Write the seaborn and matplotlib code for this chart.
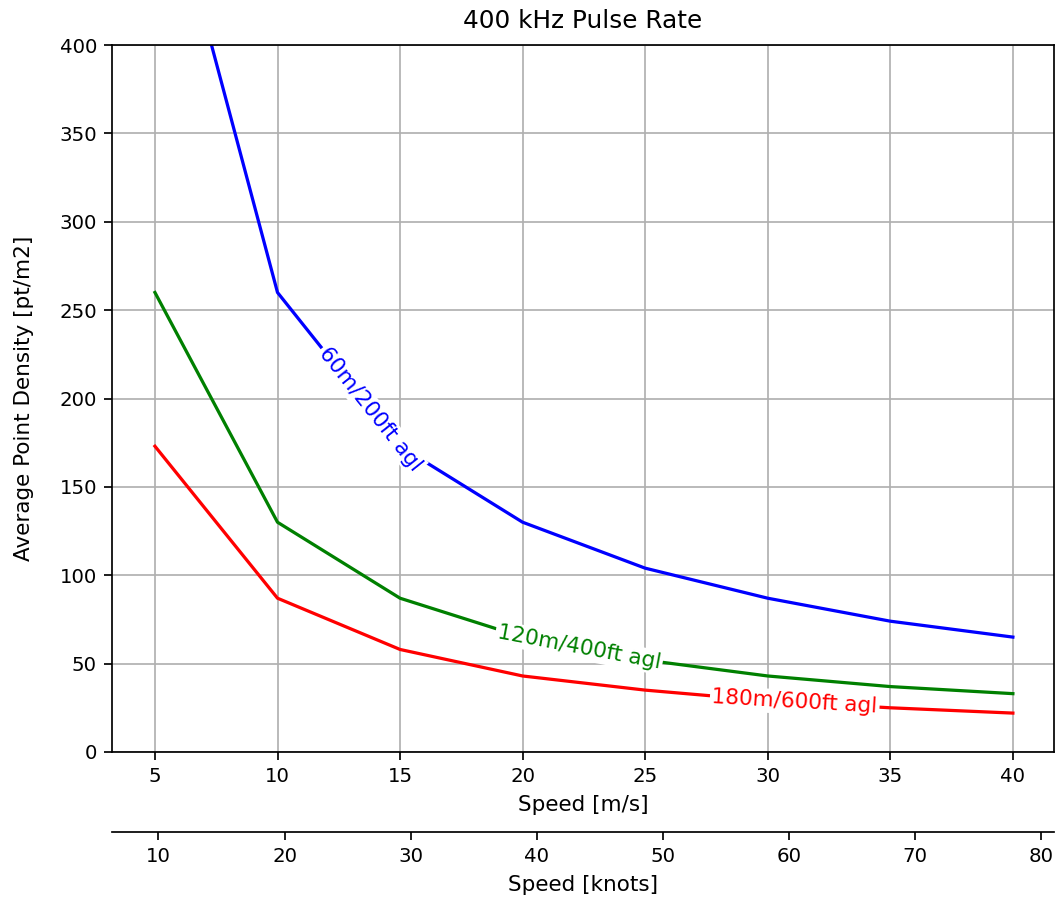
import numpy as np
import pandas as pd
import matplotlib
matplotlib.use("Agg")
import matplotlib.pyplot as plt
import seaborn as sns

# speeds [m/s] and average point density [pt/m2] per flying height
speed = [5, 10, 15, 20, 25, 30, 35, 40]
dens_60 = [520, 260, 173, 130, 104, 87, 74, 65]
dens_120 = [260, 130, 87, 65, 52, 43, 37, 33]
dens_180 = [173, 87, 58, 43, 35, 29, 25, 22]

names = ["60m/200ft agl", "120m/400ft agl", "180m/600ft agl"]
colors = ["blue", "green", "red"]
label_x = [13.8, 22.3, 31.1]
knot_ticks = [10, 20, 30, 40, 50, 60, 70, 80]

MS_TO_KNOTS = 1.94384
DPI = 155

df = pd.DataFrame({
    "speed": speed * 3,
    "density": dens_60 + dens_120 + dens_180,
    "height": [names[0]] * 8 + [names[1]] * 8 + [names[2]] * 8,
})

fig = plt.figure(figsize=(1057 / DPI, 901 / DPI), dpi=DPI)
ax = fig.add_axes([0.106, 0.1654, 0.891, 0.7846])

sns.lineplot(data=df, x="speed", y="density", hue="height",
             palette=dict(zip(names, colors)), legend=False, ax=ax,
             linewidth=1.5)

ax.set_xlim(3.25, 41.67)
ax.set_ylim(0, 400)
ax.grid(True)
ax.tick_params(labelsize=9.2)
ax.set_title("400 kHz Pulse Rate", fontsize=11.5, pad=8)
ax.set_xlabel("Speed [m/s]")
ax.set_ylabel("Average Point Density [pt/m2]", labelpad=12)

sec = ax.secondary_xaxis(-0.113, functions=(lambda v: v * MS_TO_KNOTS,
                                            lambda v: v / MS_TO_KNOTS))
sec.set_xticks(knot_ticks)
sec.tick_params(labelsize=9.2)
sec.set_xlabel("Speed [knots]")

# inline labels along each line
series = [dens_60, dens_120, dens_180]
for name, col, lx, ys in zip(names, colors, label_x, series):
    ly = np.interp(lx, speed, ys)
    i = np.searchsorted(speed, lx) - 1
    p1 = ax.transData.transform((speed[i], ys[i]))
    p2 = ax.transData.transform((speed[i + 1], ys[i + 1]))
    ang = np.degrees(np.arctan2(p2[1] - p1[1], p2[0] - p1[0]))
    ax.text(lx, ly, name, color=col, rotation=ang, rotation_mode="anchor",
            ha="center", va="center", fontsize=10,
            bbox=dict(facecolor="white", edgecolor="none", pad=1))

plt.savefig("out.png", dpi=DPI)
